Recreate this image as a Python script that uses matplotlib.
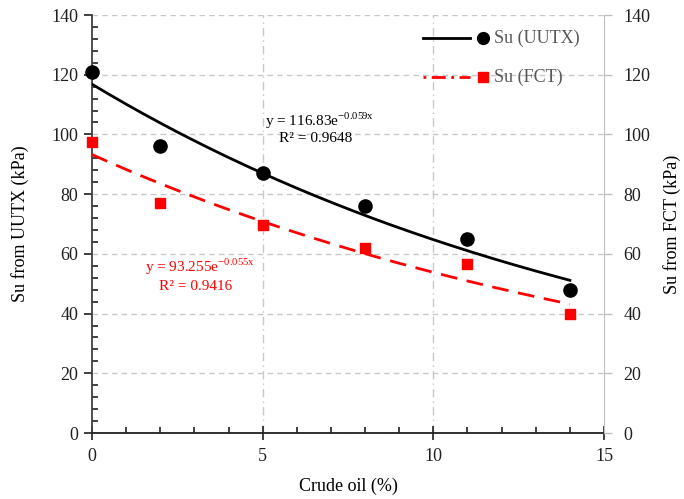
import numpy as np
import matplotlib
matplotlib.use("Agg")
import matplotlib.pyplot as plt
from matplotlib.lines import Line2D
from matplotlib.ticker import MultipleLocator

plt.rcParams['font.family'] = ['Liberation Serif', 'DejaVu Serif']
plt.rcParams['mathtext.fontset'] = 'custom'
plt.rcParams['mathtext.rm'] = 'Liberation Serif'

crude_oil = [0, 2, 5, 8, 11, 14]
su_uutx = [121, 96, 87, 76, 65, 48]
su_fct = [97.5, 77, 69.5, 62, 56.5, 40]

# trendline coefficients (from chart labels)
a_uutx, b_uutx = 116.83, -0.059
a_fct, b_fct = 93.255, -0.055

fig = plt.figure(figsize=(6.84, 4.99), dpi=100)
ax = fig.add_axes([92/684, 1-433/499, (604-92)/684, (433-15)/499])
ax2 = ax.twinx()

xs = np.linspace(0, 14, 200)
ax.plot(xs, a_uutx*np.exp(b_uutx*xs), color='black', lw=2, zorder=3)
ax.plot(xs, a_fct*np.exp(b_fct*xs), color='#ff0000', lw=2, ls=(0, (6, 3.5)), zorder=3)
ax.scatter(crude_oil, su_uutx, s=90, color='black', marker='o', zorder=4, clip_on=False)
ax.scatter(crude_oil, su_fct, s=55, color='#ff0000', marker='s', zorder=4, clip_on=False)

ax.set_xlim(0, 15)
ax.set_ylim(0, 140)
ax2.set_ylim(0, 140)
ax.xaxis.set_major_locator(MultipleLocator(5))
ax.xaxis.set_minor_locator(MultipleLocator(1))
ax.yaxis.set_major_locator(MultipleLocator(20))
ax.yaxis.set_minor_locator(MultipleLocator(4))
ax2.yaxis.set_major_locator(MultipleLocator(20))

ax.grid(axis='y', which='major', color='#c8c8c8', ls=(0, (4, 3)), lw=1)
for xv in [5, 10]:
    ax.axvline(xv, color='#c8c8c8', ls=(0, (6, 3, 1, 3)), lw=1, zorder=0)

for s in ['top', 'right']:
    ax.spines[s].set_visible(False)
ax2.spines['top'].set_visible(False)
ax2.spines['left'].set_visible(False)
ax2.spines['bottom'].set_visible(False)
ax2.spines['right'].set_color('#bfbfbf')
ax.spines['left'].set_color('#404040')
ax.spines['bottom'].set_color('#202020')
ax.spines['left'].set_linewidth(1.3)
ax.spines['bottom'].set_linewidth(1.3)

ax.tick_params(axis='x', which='major', direction='inout', length=10, width=1.2,
               labelsize=13, colors='#202020', pad=6)
ax.tick_params(axis='y', which='major', direction='out', length=6, width=1.2,
               labelsize=13, colors='#202020', pad=4)
ax.tick_params(axis='both', which='minor', direction='in', length=4.5, width=1.2, colors='#202020')
ax2.tick_params(axis='y', which='major', direction='out', length=6, width=1,
                color='#bfbfbf', labelcolor='#202020', labelsize=13, pad=8)

ax.set_xlabel('Crude oil (%)', fontsize=13, labelpad=9)
ax.set_ylabel('Su from UUTX (kPa)', fontsize=13, labelpad=16)
ax2.set_ylabel('Su from FCT (kPa)', fontsize=13, labelpad=9)

ft = fig.transFigure
fig.text(320/684, 1-121/499, r'y = 116.83e$^{\mathrm{-0.059x}}$',
         ha='center', va='center', fontsize=11, color='black')
fig.text(316/684, 1-139/499, 'R² = 0.9648',
         ha='center', va='center', fontsize=11, color='black')
fig.text(200/684, 1-267/499, r'y = 93.255e$^{\mathrm{-0.055x}}$',
         ha='center', va='center', fontsize=11, color='#ff0000')
fig.text(196/684, 1-286/499, 'R² = 0.9416',
         ha='center', va='center', fontsize=11, color='#ff0000')

# legend (manual)
fig.add_artist(Line2D([423/684, 470/684], [1-38/499]*2, color='black', lw=2, transform=ft))
fig.add_artist(Line2D([483/684], [1-38/499], marker='o', ms=8.5, color='black', transform=ft))
fig.text(494/684, 1-38/499, 'Su (UUTX)', fontsize=13, color='#595959', va='center', ha='left')
fig.add_artist(Line2D([423/684, 470/684], [1-77/499]*2, color='#ff0000', lw=2,
                      ls=(0, (1, 2, 5, 2)), transform=ft))
fig.add_artist(Line2D([483/684], [1-77/499], marker='s', ms=7, color='#ff0000', transform=ft))
fig.text(494/684, 1-77/499, 'Su (FCT)', fontsize=13, color='#595959', va='center', ha='left')

fig.savefig('out.png', dpi=100)
